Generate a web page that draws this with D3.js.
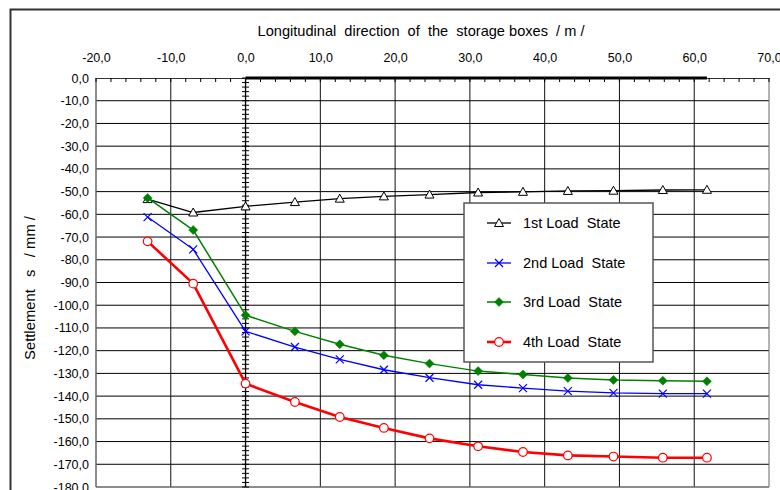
<!DOCTYPE html>
<html><head><meta charset="utf-8">
<script src="https://cdn.jsdelivr.net/npm/d3@7/dist/d3.min.js"></script>
<style>
html,body{margin:0;padding:0;background:#fff;}
svg{display:block;font-family:"Liberation Sans",Arial,sans-serif;}
</style></head>
<body>
<svg id="chart" width="780" height="490"></svg>
<script>
// ---- data ----
const xPositions = [-13.1, -7.0, 0.0, 6.6, 12.6, 18.5, 24.6, 31.1, 37.1, 43.1, 49.2, 55.8, 61.7];
const load1 = [-53.3, -59.2, -56.5, -54.6, -53.1, -52.1, -51.3, -50.4, -50.1, -49.7, -49.6, -49.3, -49.2];
const load2 = [-61.2, -75.4, -111.5, -118.4, -123.8, -128.4, -131.9, -135.0, -136.5, -137.8, -138.6, -138.9, -138.9];
const load3 = [-52.8, -66.9, -104.4, -111.5, -117.2, -122.0, -125.7, -129.0, -130.5, -132.0, -132.9, -133.2, -133.5];
const load4 = [-71.9, -90.5, -134.5, -142.6, -149.2, -154.0, -158.6, -162.1, -164.6, -166.1, -166.6, -167.1, -167.1];
const seriesNames = ["1st Load  State", "2nd Load  State", "3rd Load  State", "4th Load  State"];
const boxExtent = [0.0, 61.7];
const xTicks = [-20, -10, 0, 10, 20, 30, 40, 50, 60, 70];
const yTicks = [0, -10, -20, -30, -40, -50, -60, -70, -80, -90, -100, -110, -120, -130, -140, -150, -160, -170, -180];
const xTitle = "Longitudinal  direction  of  the  storage boxes  / m /";
const yTitle = "Settlement   s   / mm /";

// ---- layout ----
const svg = d3.select("#chart");
const L = 96, R = 769, T = 78, B = 487;
const x = d3.scaleLinear().domain([-20, 70]).range([L, R]);
const y = d3.scaleLinear().domain([0, -180]).range([T, B]);
const fmt = v => d3.format(".1f")(v).replace(".", ",").replace("−", "-");

// outer frame
svg.append("rect").attr("x", 10.5).attr("y", 9.5).attr("width", 800).attr("height", 500)
  .attr("fill", "none").attr("stroke", "#333").attr("stroke-width", 2);

// gridlines
const g = svg.append("g");
g.selectAll(".hg").data(yTicks.filter(v => v !== 0 && v !== -180)).join("line")
  .attr("x1", L).attr("x2", R).attr("y1", d => y(d)).attr("y2", d => y(d))
  .attr("stroke", "#000").attr("stroke-width", 1);
g.selectAll(".vg").data(xTicks.filter(v => v !== -20 && v !== 0)).join("line")
  .attr("y1", T).attr("y2", B).attr("x1", d => x(d)).attr("x2", d => x(d))
  .attr("stroke", d => d === 70 ? "#666" : "#111").attr("stroke-width", 1);
// plot frame left & bottom
g.append("line").attr("x1", L).attr("x2", L).attr("y1", T).attr("y2", B).attr("stroke", "#666").attr("stroke-width", 1.5);
g.append("line").attr("x1", L).attr("x2", R).attr("y1", B).attr("y2", B).attr("stroke", "#666").attr("stroke-width", 1.5);

// top axis
const xAxis = d3.axisTop(x).tickValues(xTicks).tickFormat(fmt).tickSize(0).tickPadding(16);
const ax = svg.append("g").attr("transform", `translate(0,${T})`).call(xAxis);
ax.select(".domain").attr("stroke", "#333").attr("stroke-width", 1);
ax.selectAll("text").attr("font-size", 12.5).attr("fill", "#000").attr("font-family", "Liberation Sans, Arial, sans-serif");
// minor ticks on top axis
const xMinor = d3.range(-20, 70.01, 2);
svg.append("g").selectAll("line").data(xMinor).join("line")
  .attr("x1", d => x(d)).attr("x2", d => x(d)).attr("y1", T).attr("y2", T + 4)
  .attr("stroke", "#000").attr("stroke-width", 1);

// left axis labels
const yAxis = d3.axisLeft(y).tickValues(yTicks).tickFormat(fmt).tickSize(0).tickPadding(7);
const ay = svg.append("g").attr("transform", `translate(${L},0)`).call(yAxis);
ay.select(".domain").remove();
ay.selectAll("text").attr("font-size", 12.5).attr("fill", "#000").attr("font-family", "Liberation Sans, Arial, sans-serif");

// zero axis with cross ticks
svg.append("line").attr("x1", x(0)).attr("x2", x(0)).attr("y1", T).attr("y2", B).attr("stroke", "#000").attr("stroke-width", 1.3);
svg.append("g").selectAll("line").data(d3.range(0, -180.01, -2)).join("line")
  .attr("x1", x(0) - 3.5).attr("x2", x(0) + 3.5).attr("y1", d => y(d)).attr("y2", d => y(d))
  .attr("stroke", "#000").attr("stroke-width", 1);

// box top (thick line at 0)
svg.append("line").attr("x1", x(boxExtent[0])).attr("x2", x(boxExtent[1]))
  .attr("y1", y(0)).attr("y2", y(0)).attr("stroke", "#000").attr("stroke-width", 3);

// titles
svg.append("text").attr("x", 421).attr("y", 36).attr("text-anchor", "middle")
  .attr("font-size", 14.6).text(xTitle).style("white-space", "pre").attr("xml:space", "preserve");
svg.append("text").attr("transform", "translate(35,288) rotate(-90)").attr("text-anchor", "middle")
  .attr("font-size", 14.8).text(yTitle).style("white-space", "pre").attr("xml:space", "preserve");

// series
const series = [
  {vals: load1, color: "#000", width: 1.3, marker: "tri"},
  {vals: load2, color: "#0000ff", width: 1.3, marker: "x"},
  {vals: load3, color: "#008000", width: 1.5, marker: "dia"},
  {vals: load4, color: "#ff0000", width: 2.6, marker: "circ"}
];
const line = d3.line().x(d => x(d[0])).y(d => y(d[1]));

function drawMarker(sel, type, color) {
  if (type === "tri") {
    sel.append("path").attr("d", "M0,-4.5 L4.5,3.5 L-4.5,3.5 Z").attr("fill", "#fff").attr("stroke", "#000").attr("stroke-width", 1);
  } else if (type === "x") {
    sel.append("path").attr("d", "M-4,-4 L4,4 M-4,4 L4,-4").attr("stroke", color).attr("stroke-width", 1.2).attr("fill", "none");
  } else if (type === "dia") {
    sel.append("path").attr("d", "M0,-4.5 L4.5,0 L0,4.5 L-4.5,0 Z").attr("fill", color).attr("stroke", color).attr("stroke-width", 0.5);
  } else {
    sel.append("circle").attr("r", 4.3).attr("fill", "#fff").attr("stroke", color).attr("stroke-width", 1.2);
  }
}

series.forEach(s => {
  const pts = xPositions.map((xv, i) => [xv, s.vals[i]]);
  svg.append("path").datum(pts).attr("d", line).attr("fill", "none")
    .attr("stroke", s.color).attr("stroke-width", s.width).attr("stroke-linejoin", "round");
  pts.forEach(p => {
    const m = svg.append("g").attr("transform", `translate(${x(p[0])},${y(p[1])})`);
    drawMarker(m, s.marker, s.color);
  });
});

// legend
const lg = svg.append("g");
lg.append("rect").attr("x", 464).attr("y", 203).attr("width", 189).attr("height", 159)
  .attr("fill", "#fff").attr("stroke", "#555").attr("stroke-width", 1.5);
const legendY = [223, 263, 302, 342];
series.forEach((s, i) => {
  const ly = legendY[i];
  lg.append("line").attr("x1", 487).attr("x2", 511).attr("y1", ly).attr("y2", ly)
    .attr("stroke", s.color).attr("stroke-width", s.width);
  drawMarker(lg.append("g").attr("transform", `translate(499,${ly})`), s.marker, s.color);
  lg.append("text").attr("x", 523).attr("y", ly + 5).attr("font-size", 14.5)
    .attr("xml:space", "preserve").style("white-space", "pre").text(seriesNames[i]);
});
</script>
</body></html>
